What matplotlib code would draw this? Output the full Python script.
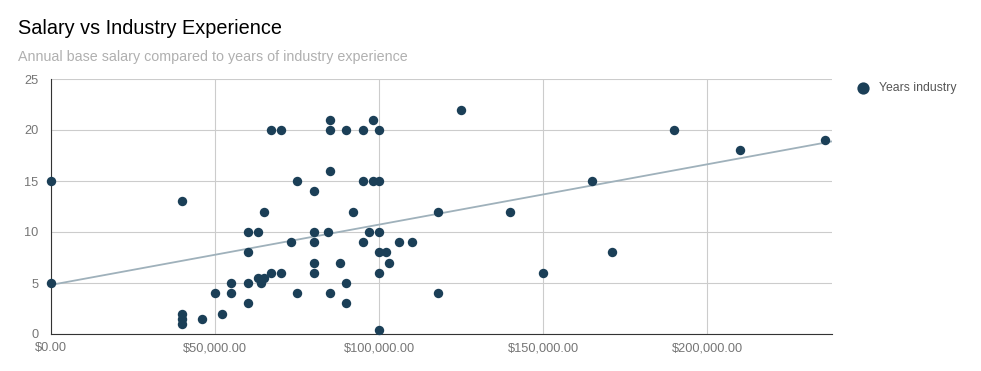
import matplotlib
matplotlib.use('Agg')

import matplotlib.pyplot as plt
import numpy as np
from matplotlib.ticker import FuncFormatter

plt.rcParams['font.family'] = ['Liberation Sans', 'DejaVu Sans']

# 薪资 (美元) 与 行业年限
salary = [0, 0, 40000, 40000, 40000, 40000, 46000, 50000, 52000, 55000, 55000,
          60000, 60000, 60000, 60000, 63000, 63000, 64000, 65000, 65000, 67000,
          67000, 70000, 70000, 73000, 75000, 75000, 80000, 80000, 80000, 80000,
          80000, 85000, 85000, 85000, 84500, 85000, 88000, 90000, 90000, 90000,
          92000, 95000, 95000, 95000, 97000, 98000, 98000, 100000, 100000, 100000,
          100000, 100000, 100000, 102000, 103000, 106000, 110000, 118000, 118000,
          125000, 140000, 150000, 165000, 171000, 190000, 210000, 236000]
years = [5, 15, 13, 2, 1.5, 1, 1.5, 4, 2, 5, 4,
         10, 8, 5, 3, 10, 5.5, 5, 12, 5.5, 6,
         20, 20, 6, 9, 15, 4, 14, 10, 9, 7,
         6, 21, 20, 16, 10, 4, 7, 20, 5, 3,
         12, 20, 15, 9, 10, 21, 15, 20, 15, 10,
         8, 6, 0.4, 8, 7, 9, 9, 12, 4,
         22, 12, 6, 15, 8, 20, 18, 19]
x_max = 238000
y_ticks = [0, 5, 10, 15, 20, 25]
x_ticks = [0, 50000, 100000, 150000, 200000]

point_color = '#1b3f57'
trend_color = '#9fb1bb'

fig = plt.figure(figsize=(9.81, 3.71), dpi=100)
ax = fig.add_axes([51 / 981, 1 - 334 / 371, (832 - 51) / 981, (334 - 79) / 371])

x = np.array(salary, dtype=float)
y = np.array(years, dtype=float)
k, b = np.polyfit(x, y, 1)  # 趋势线
xs = np.array([0, x_max])
ax.plot(xs, k * xs + b, color=trend_color, lw=1.3, zorder=2)

ax.scatter(x, y, s=46, color=point_color, zorder=3, clip_on=False,
           label='Years industry', linewidths=0)

ax.set_xlim(0, x_max)
ax.set_ylim(0, 25)
ax.set_xticks(x_ticks)
ax.set_yticks(y_ticks)
ax.xaxis.set_major_formatter(FuncFormatter(lambda v, p: f'${v:,.2f}'))
ax.grid(True, color='#cccccc', lw=0.8, zorder=0)
ax.set_axisbelow(True)
for s in ['top', 'right']:
    ax.spines[s].set_visible(False)
ax.spines['bottom'].set_color('#333333')
ax.spines['left'].set_color('#333333')
ax.tick_params(length=0, labelsize=9.2, colors='#757575')
ax.tick_params(axis='y', pad=9)
ax.tick_params(axis='x', pad=6)

fig.text(18 / 981, 1 - 28 / 371, 'Salary vs Industry Experience', fontsize=14.3,
         color='#000000', va='center')
fig.text(18 / 981, 1 - 57 / 371, 'Annual base salary compared to years of industry experience',
         fontsize=10.25, color='#b0b0b0', va='center')

ax.legend(loc='upper left', bbox_to_anchor=(840 / 981, 1 - 71 / 371),
          bbox_transform=fig.transFigure, frameon=False, fontsize=8.8,
          labelcolor='#555555', handletextpad=0.3, markerscale=1.3)

fig.savefig('out.png', dpi=100)
